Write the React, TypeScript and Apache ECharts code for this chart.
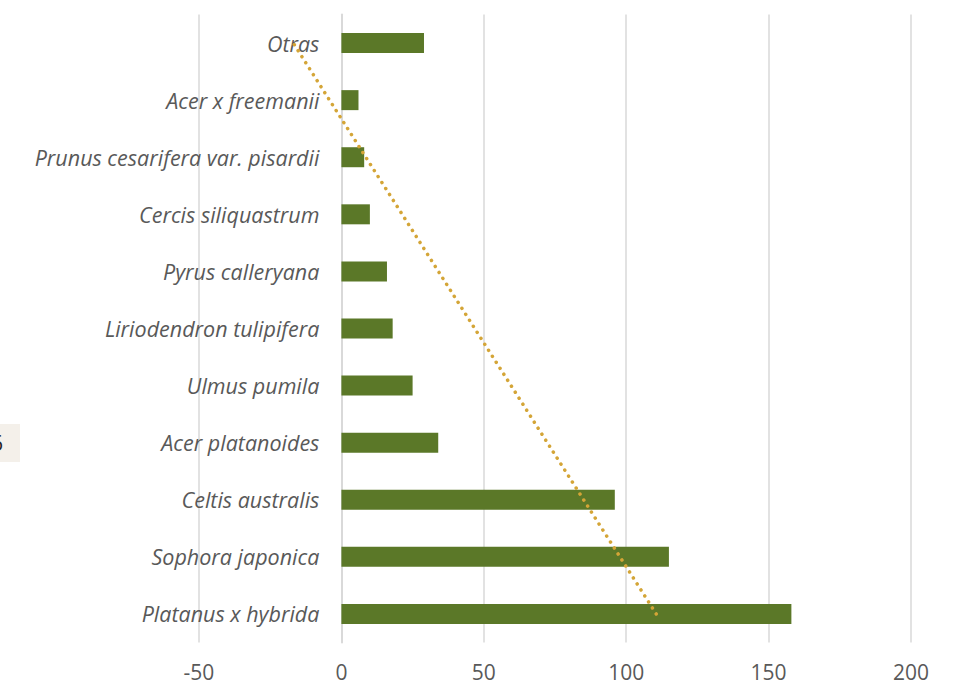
import React, { useEffect, useRef } from "react";
import * as echarts from "echarts";

const categories = [
  "Platanus x hybrida",
  "Sophora japonica",
  "Celtis australis",
  "Acer platanoides",
  "Ulmus pumila",
  "Liriodendron tulipifera",
  "Pyrus calleryana",
  "Cercis siliquastrum",
  "Prunus cesarifera var. pisardii",
  "Acer x freemanii",
  "Otras",
];
const values = [158, 115, 96, 34, 25, 18, 16, 10, 8, 6, 29];
const axisMin = -50;
const axisMax = 200;
const axisInterval = 50;

function trend(vals: number[]): number[][] {
  const n = vals.length;
  const xs = vals.map((_, i) => i + 1);
  const mx = xs.reduce((a, b) => a + b, 0) / n;
  const my = vals.reduce((a, b) => a + b, 0) / n;
  let sxy = 0;
  let sxx = 0;
  for (let i = 0; i < n; i++) {
    sxy += (xs[i] - mx) * (vals[i] - my);
    sxx += (xs[i] - mx) * (xs[i] - mx);
  }
  const slope = sxy / sxx;
  return [
    [my + slope * (1 - mx), 0],
    [my + slope * (n - mx), n - 1],
  ];
}

const GRID_LEFT = 199;
const GRID_RIGHT = 52;
const WIDTH = 963;
const HEIGHT = 686;

export default function App() {
  const ref = useRef<HTMLDivElement>(null);
  useEffect(() => {
    document.body.style.margin = "0";
    const chart = echarts.init(ref.current!, null, { renderer: "svg" });
    const gridW = WIDTH - GRID_LEFT - GRID_RIGHT;
    const zeroOffset = ((0 - axisMin) / (axisMax - axisMin)) * gridW;
    chart.setOption({
      animation: false,
      backgroundColor: "#ffffff",
      grid: {
        left: GRID_LEFT,
        right: GRID_RIGHT,
        top: 14.5,
        bottom: 43.5,
        containLabel: false,
        outerBoundsMode: "none",
      },
      xAxis: {
        type: "value",
        min: axisMin,
        max: axisMax,
        interval: axisInterval,
        axisLine: { show: false },
        axisTick: { show: false },
        splitLine: { show: true, lineStyle: { color: "#d9d9d9", width: 1.5 } },
        axisLabel: {
          color: "#595959",
          fontSize: 21,
          lineHeight: 18,
          fontFamily: "Open Sans",
          margin: 20,
        },
      },
      yAxis: {
        type: "category",
        data: categories,
        offset: -zeroOffset,
        axisLine: { show: true, onZero: false, lineStyle: { color: "#d9d9d9", width: 2 } },
        axisTick: { show: false },
        axisLabel: {
          color: "#595959",
          fontSize: 21.5,
          fontStyle: "italic",
          fontFamily: "Open Sans",
          margin: 22,
        },
      },
      series: [
        {
          type: "bar",
          data: values,
          barWidth: 20,
          itemStyle: { color: "#5b7828" },
          z: 2,
        },
        {
          type: "line",
          data: trend(values),
          symbol: "none",
          lineStyle: { color: "#d4a537", width: 3.5, type: [0.1, 7], cap: "round" },
          z: 3,
        },
      ],
      graphic: [
        {
          type: "rect",
          shape: { x: 0, y: 424, width: 20, height: 38 },
          style: { fill: "#f4f0ea" },
        },
        {
          type: "text",
          x: -9,
          y: 443,
          style: {
            text: "6",
            fontSize: 21,
            fontFamily: "Open Sans",
            fill: "#222222",
            verticalAlign: "middle",
          },
        },
      ],
    });
    return () => chart.dispose();
  }, []);
  return <div ref={ref} style={{ width: WIDTH, height: HEIGHT }} />;
}
